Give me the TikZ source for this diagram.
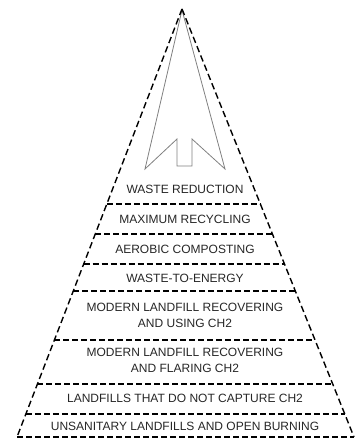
\documentclass[tikz,border=0pt]{standalone}
\usepackage{fontspec}
\setmainfont{Liberation Sans}
\usetikzlibrary{calc}
\begin{document}
\begin{tikzpicture}[x=1pt,y=-1pt,
  edge/.style={line width=1.4pt,dash pattern=on 6.5pt off 3.5pt},
  tier/.style={line width=1.5pt,dash pattern=on 6pt off 3pt},
  arrowshape/.style={draw=black!50,line width=0.8pt,line join=miter},
  label/.style={text=black!85,font=\fontsize{12}{16}\selectfont,align=center,inner sep=0pt}]
\useasboundingbox (0,0) rectangle (364,439);
\coordinate (apex) at (182,9);
\coordinate (bl) at (17,437);
\coordinate (br) at (354,437);
% arrow
\coordinate (tip) at (182,10);
\coordinate (rb) at (225,169);
\coordinate (ri) at (192,139);
\coordinate (rn) at (192,166);
\coordinate (ln) at (177,166);
\coordinate (li) at (177,139);
\coordinate (lb) at (145,169);
\draw[arrowshape] (tip) -- (rb) -- (ri) -- (rn) -- (ln) -- (li) -- (lb) -- cycle;
% sides
\draw[edge] (apex) -- (bl);
\draw[edge] (apex) -- (br);
% tier lines
\foreach \t [count=\i] in {0.4556,0.5257,0.5958,0.6589,0.7734,0.8762,0.9463,1.0}{
  \coordinate (L\i) at ($(apex)!\t!(bl)$);
  \coordinate (R\i) at ($(apex)!\t!(br)$);
  \draw[tier] (L\i) -- (R\i);
}
% labels
\node[label] (t1) at (185,189) {WASTE REDUCTION};
\node[label] (t2) at (185,219) {MAXIMUM RECYCLING};
\node[label] (t3) at (185,249) {AEROBIC COMPOSTING};
\node[label] (t4) at (185,278) {WASTE-TO-ENERGY};
\node[label] (t5) at (185,315.5) {MODERN LANDFILL RECOVERING\\AND USING CH2};
\node[label] (t6) at (185,360) {MODERN LANDFILL RECOVERING\\AND FLARING CH2};
\node[label] (t7) at (185,398.5) {LANDFILLS THAT DO NOT CAPTURE CH2};
\node[label] (t8) at (185,426.5) {UNSANITARY LANDFILLS AND OPEN BURNING};
\end{tikzpicture}
\end{document}
